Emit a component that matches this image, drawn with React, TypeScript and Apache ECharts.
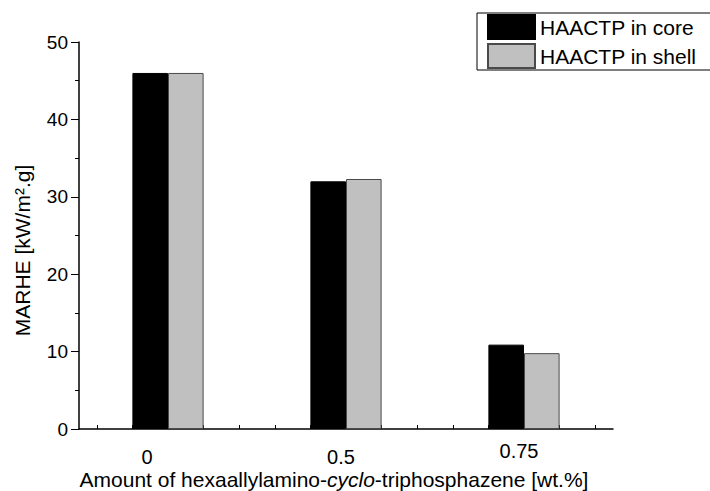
import React, { useEffect, useRef } from "react";
import * as echarts from "echarts";

const categories = ["0", "0.5", "0.75"];
const coreValues = [46.0, 32.0, 10.9];
const shellValues = [46.0, 32.3, 9.8];
const seriesNames = ["HAACTP in core", "HAACTP in shell"];
const yTicks = { min: 0, max: 50, interval: 10 };
const minorTickSlots = Array.from({ length: 15 }, (_, i) => String(i));

const FONT = "'Liberation Sans', Arial, Helvetica, sans-serif";

export default function App() {
  const ref = useRef<HTMLDivElement>(null);
  useEffect(() => {
    if (!ref.current) return;
    const chart = echarts.init(ref.current, undefined, { renderer: "svg" });
    chart.setOption({
      animation: false,
      backgroundColor: "#ffffff",
      textStyle: { fontFamily: FONT, color: "#000" },
      grid: {
        left: 79,
        right: 97,
        top: 42,
        bottom: 62,
        containLabel: false,
        outerBoundsMode: "none",
      },
      legend: {
        orient: "vertical",
        left: 477,
        top: 13,
        padding: [1, 60, 1, 10],
        itemWidth: 47,
        itemHeight: 24,
        itemGap: 3,
        icon: "rect",
        borderColor: "#000",
        borderWidth: 1,
        textStyle: { fontSize: 21, color: "#000", fontFamily: FONT, lineHeight: 24 },
        data: seriesNames,
      },
      xAxis: [
        {
          type: "category",
          data: categories,
          boundaryGap: true,
          position: "bottom",
          axisLine: { show: true, lineStyle: { color: "#000", width: 1.5 } },
          axisTick: { show: false },
          axisLabel: {
            margin: 12,
            fontSize: 20,
            color: "#000",
            fontFamily: FONT,
            formatter: (v: string, i: number) => `{l${i}|${v}}`,
            rich: {
              l0: { fontSize: 20, fontFamily: FONT, color: "#000", padding: [6, 42, 0, 0] },
              l1: { fontSize: 20, fontFamily: FONT, color: "#000", padding: [6, 10, 0, 0] },
              l2: { fontSize: 20, fontFamily: FONT, color: "#000", padding: [0, 10, 0, 0] },
            },
          },
          name: "{a|Amount of hexaallylamino-}{i|cyclo}{a|-triphosphazene [wt.%]}",
          nameLocation: "middle",
          nameGap: 40,
          nameMoveOverlap: false,
          nameTextStyle: {
            fontSize: 21,
            color: "#000",
            fontFamily: FONT,
            padding: [0, 24, 0, 0],
            rich: {
              a: { fontSize: 21, color: "#000", fontFamily: FONT },
              i: { fontSize: 21, color: "#000", fontFamily: FONT, fontStyle: "italic" },
            },
          },
        },
        {
          type: "category",
          data: minorTickSlots,
          boundaryGap: true,
          position: "bottom",
          axisLine: { show: false },
          axisLabel: { show: false },
          axisTick: {
            show: true,
            alignWithLabel: true,
            inside: true,
            length: 4,
            lineStyle: { color: "#000", width: 1 },
          },
        },
      ],
      yAxis: {
        type: "value",
        min: yTicks.min,
        max: yTicks.max,
        interval: yTicks.interval,
        axisLine: { show: true, lineStyle: { color: "#000", width: 1.5 } },
        axisTick: { show: true, length: 8, lineStyle: { color: "#000", width: 1 } },
        minorTick: { show: true, splitNumber: 2, length: 4, lineStyle: { color: "#000", width: 1 } },
        splitLine: { show: false },
        axisLabel: { fontSize: 19, color: "#000", fontFamily: FONT, margin: 11 },
        name: "MARHE [kW/m².g]",
        nameLocation: "middle",
        nameGap: 46,
        nameRotate: 90,
        nameMoveOverlap: false,
        nameTextStyle: {
          fontSize: 21,
          color: "#000",
          fontFamily: FONT,
          padding: [0, 30, 0, 0],
        },
      },
      series: [
        {
          name: seriesNames[0],
          type: "bar",
          data: coreValues,
          xAxisIndex: 0,
          barGap: "0%",
          barCategoryGap: "60%",
          itemStyle: { color: "#000000", borderColor: "#000000", borderWidth: 1 },
        },
        {
          name: seriesNames[1],
          type: "bar",
          data: shellValues,
          xAxisIndex: 0,
          barGap: "0%",
          barCategoryGap: "60%",
          itemStyle: { color: "#c0c0c0", borderColor: "#4a4a4a", borderWidth: 1 },
        },
      ],
    });
    return () => chart.dispose();
  }, []);
  return <div ref={ref} style={{ width: 710, height: 491, position: "absolute", left: 0, top: 0 }} />;
}
